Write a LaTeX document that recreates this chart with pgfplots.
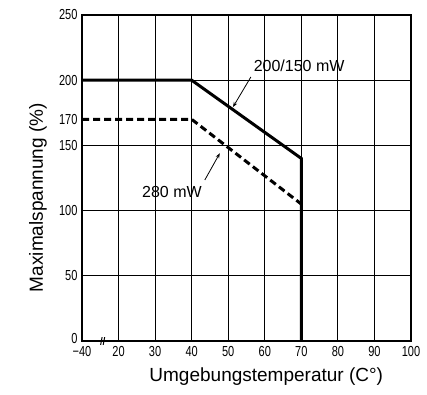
\documentclass[border=0pt]{standalone}
\usepackage{fontspec}
\usepackage{graphicx}
\setmainfont{Liberation Sans}
\newcommand\tk[1]{\mbox{\fontsize{14.5}{14.5}\selectfont\scalebox{0.76}[1]{#1}}}
\usepackage{pgfplots}
\pgfplotsset{compat=1.18}
\usetikzlibrary{arrows.meta}
\begin{document}
\begin{tikzpicture}
\path[use as bounding box] (-82pt,-53pt) rectangle (345pt,341pt);
\begin{axis}[
  at={(0,0)}, anchor=south west,
  scale only axis, width=329pt, height=326pt,
  xmin=10, xmax=100, ymin=0, ymax=250,
  xtick={10,20,30,40,50,60,70,80,90,100},
  xticklabels={\tk{−40},\tk{20},\tk{30},\tk{40},\tk{50},\tk{60},\tk{70},\tk{80},\tk{90},\tk{100}},
  ytick={0,50,100,150,200,250},
  yticklabels={\raisebox{5pt}{\tk{0}},\tk{50},\tk{100},\tk{150},\tk{200},\tk{250}},
  extra y ticks={170},
  extra y tick labels={\tk{170}},
  extra y tick style={grid=none},
  grid=major,
  major grid style={black, line width=0.8pt},
  axis line style={black, line width=1.4pt},
  major tick length=0pt,
  xticklabel style={yshift=-2pt},
  yticklabel style={xshift=-1pt},
  xlabel={Umgebungstemperatur (C°)},
  ylabel={Maximalspannung (\%)},
  label style={font=\fontsize{19}{19}\selectfont},
  xlabel style={at={(axis description cs:0.56,-0.110)}, anchor=center},
  ylabel style={at={(axis description cs:-0.134,0.44)}, anchor=center},
  clip=false,
]
\addplot[black, line width=3pt, line join=miter] coordinates {(10,200) (40,200) (70,140) (70,0)};
\addplot[black, line width=3pt, dash pattern=on 7pt off 4pt] coordinates {(10,170) (40,170) (70,105)};
\draw[black, line width=1pt] (axis cs:15.1,-3) -- (axis cs:15.5,3);
\draw[black, line width=1pt] (axis cs:15.8,-3) -- (axis cs:16.2,3);
\node[font=\fontsize{16}{16}\selectfont] at (axis cs:69.4,211) {200/150 mW};
\draw[black, line width=0.8pt, -{Stealth[length=5pt]}] (axis cs:56.2,202.5) -- (axis cs:51.3,179.4);
\node[font=\fontsize{16}{16}\selectfont] at (axis cs:34.6,114) {280 mW};
\draw[black, line width=0.8pt, -{Stealth[length=5pt]}] (axis cs:43.6,123.5) -- (axis cs:47.7,144);
\end{axis}
\end{tikzpicture}
\end{document}
